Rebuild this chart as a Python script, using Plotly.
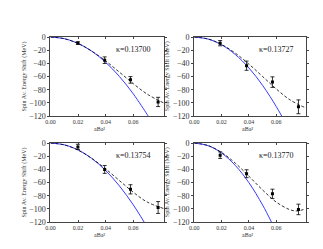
import plotly.graph_objects as go

# ---- data ----
kappas = ["0.13700", "0.13727", "0.13754", "0.13770"]

x_pts = [
    [0.0199, 0.0393, 0.0580, 0.0780],
    [0.0190, 0.0383, 0.0572, 0.0762],
    [0.0199, 0.0393, 0.0580, 0.0780],
    [0.0190, 0.0383, 0.0572, 0.0762],
]
y_pts = [
    [-9.2, -35.1, -65.0, -98.5],
    [-9.3, -43.5, -68.4, -105.9],
    [-5.8, -40.0, -70.2, -97.8],
    [-18.3, -46.5, -77.0, -100.7],
]
y_err = [
    [2.0, 5.0, 5.0, 7.0],
    [4.0, 7.0, 8.0, 10.5],
    [4.0, 6.0, 7.0, 9.0],
    [5.0, 6.0, 7.0, 8.0],
]

# dashed fit curves (read at sample abscissae)
dash_x = [
    [0.0, 0.01, 0.02, 0.03, 0.04, 0.05, 0.06, 0.07, 0.082],
    [0.0, 0.01, 0.02, 0.03, 0.04, 0.05, 0.06, 0.07, 0.081],
    [0.0, 0.01, 0.02, 0.03, 0.04, 0.05, 0.06, 0.07, 0.082],
    [0.0, 0.01, 0.02, 0.03, 0.04, 0.05, 0.06, 0.07, 0.075, 0.081],
]
dash_y = [
    [0, -2.5, -9.8, -21.4, -36.3, -53.3, -70.7, -86.5, -100.0],
    [0, -2.85, -11.2, -24.3, -41.1, -59.9, -78.8, -95.3, -107.1],
    [0, -2.7, -10.7, -23.3, -39.2, -57.0, -74.6, -89.4, -99.3],
    [0, -3.63, -14.1, -30.3, -50.3, -71.2, -89.6, -101.2, -103.0, -100.2],
]

# blue curves (read at sample abscissae)
blue_x = [
    [0.0, 0.01, 0.02, 0.03, 0.04, 0.05, 0.06, 0.07, 0.0708],
    [0.0, 0.01, 0.02, 0.03, 0.04, 0.05, 0.06, 0.064],
    [0.0, 0.01, 0.02, 0.03, 0.04, 0.05, 0.06, 0.0679],
    [0.0, 0.01, 0.02, 0.03, 0.04, 0.05, 0.0565],
]
blue_y = [
    [0, -2.4, -9.6, -21.5, -38.3, -59.9, -86.2, -117.3, -120.0],
    [0, -2.93, -11.7, -26.4, -46.9, -73.3, -105.5, -120.0],
    [0, -2.6, -10.4, -23.4, -41.6, -65.1, -93.7, -120.0],
    [0, -3.76, -15.0, -33.8, -60.1, -94.0, -120.0],
]

x_ticks = [0.0, 0.02, 0.04, 0.06]
y_ticks = [0, -20, -40, -60, -80, -100, -120]
x_title = "aBa\u00b2"
y_title = "Spin Av. Energy Shift (MeV)"

W, H = 323, 249
# pixel boxes (left, right, top, bottom)
boxes = [(38, 153, 26, 108), (184, 298, 26, 108), (38, 153, 136, 218), (184, 298, 136, 218)]
ytitle_x = [12, 157, 12, 157]
xtitle_x = [88, 238, 88, 238]

FONT = "Liberation Serif"
fig = go.Figure()
layout = {}
for i in range(4):
    n = "" if i == 0 else str(i + 1)
    xa, ya = "x" + n, "y" + n
    fig.add_trace(go.Scatter(x=blue_x[i], y=blue_y[i], mode="lines", line=dict(color="#3a3aff", width=1, shape="spline"),
                             xaxis=xa, yaxis=ya, showlegend=False, hoverinfo="skip"))
    fig.add_trace(go.Scatter(x=dash_x[i], y=dash_y[i], mode="lines", line=dict(color="black", width=0.8, dash="3px,2px", shape="spline"),
                             xaxis=xa, yaxis=ya, showlegend=False, hoverinfo="skip"))
    fig.add_trace(go.Scatter(x=x_pts[i], y=y_pts[i], mode="markers",
                             marker=dict(symbol="square", size=3, color="black"),
                             error_y=dict(type="data", array=y_err[i], color="black", thickness=0.8, width=2),
                             xaxis=xa, yaxis=ya, showlegend=False))
    l, r, t, b = boxes[i]
    layout["xaxis" + n] = dict(domain=[l / W, r / W], range=[0, 0.082], tickvals=x_ticks, tickformat=".2f",
                               showgrid=False, zeroline=False, showline=True, linecolor="#444", linewidth=1, mirror="ticks",
                               ticks="inside", ticklen=2, tickcolor="#444", anchor=ya,
                               tickfont=dict(family=FONT, size=6, color="#333"))
    layout["yaxis" + n] = dict(domain=[1 - b / H, 1 - t / H], range=[-120, 0], tickvals=y_ticks,
                               showgrid=False, zeroline=False, showline=True, linecolor="#444", linewidth=1, mirror="ticks",
                               ticks="outside", ticklen=2, tickcolor="#444", anchor=xa,
                               tickfont=dict(family=FONT, size=8, color="#333"))
    fig.add_annotation(x=0.0605, y=-19, xref=xa, yref=ya, text="\u03ba=" + kappas[i], showarrow=False,
                       font=dict(family=FONT, size=8, color="#222"))
    # axis titles
    fig.add_annotation(x=xtitle_x[i] / W, y=1 - (b + 13) / H, xref="paper", yref="paper", text=x_title,
                       xanchor="center", yanchor="middle", showarrow=False,
                       font=dict(family=FONT, size=6, color="#333"))
    fig.add_annotation(x=ytitle_x[i] / W, y=1 - (t + b) / 2 / H, xref="paper", yref="paper", text=y_title,
                       xanchor="center", yanchor="middle", textangle=-90, showarrow=False,
                       font=dict(family=FONT, size=6, color="#333"))

fig.update_layout(width=W, height=H, margin=dict(l=0, r=0, t=0, b=0), paper_bgcolor="white", plot_bgcolor="white",
                  **layout)
fig.write_html("out.html")
